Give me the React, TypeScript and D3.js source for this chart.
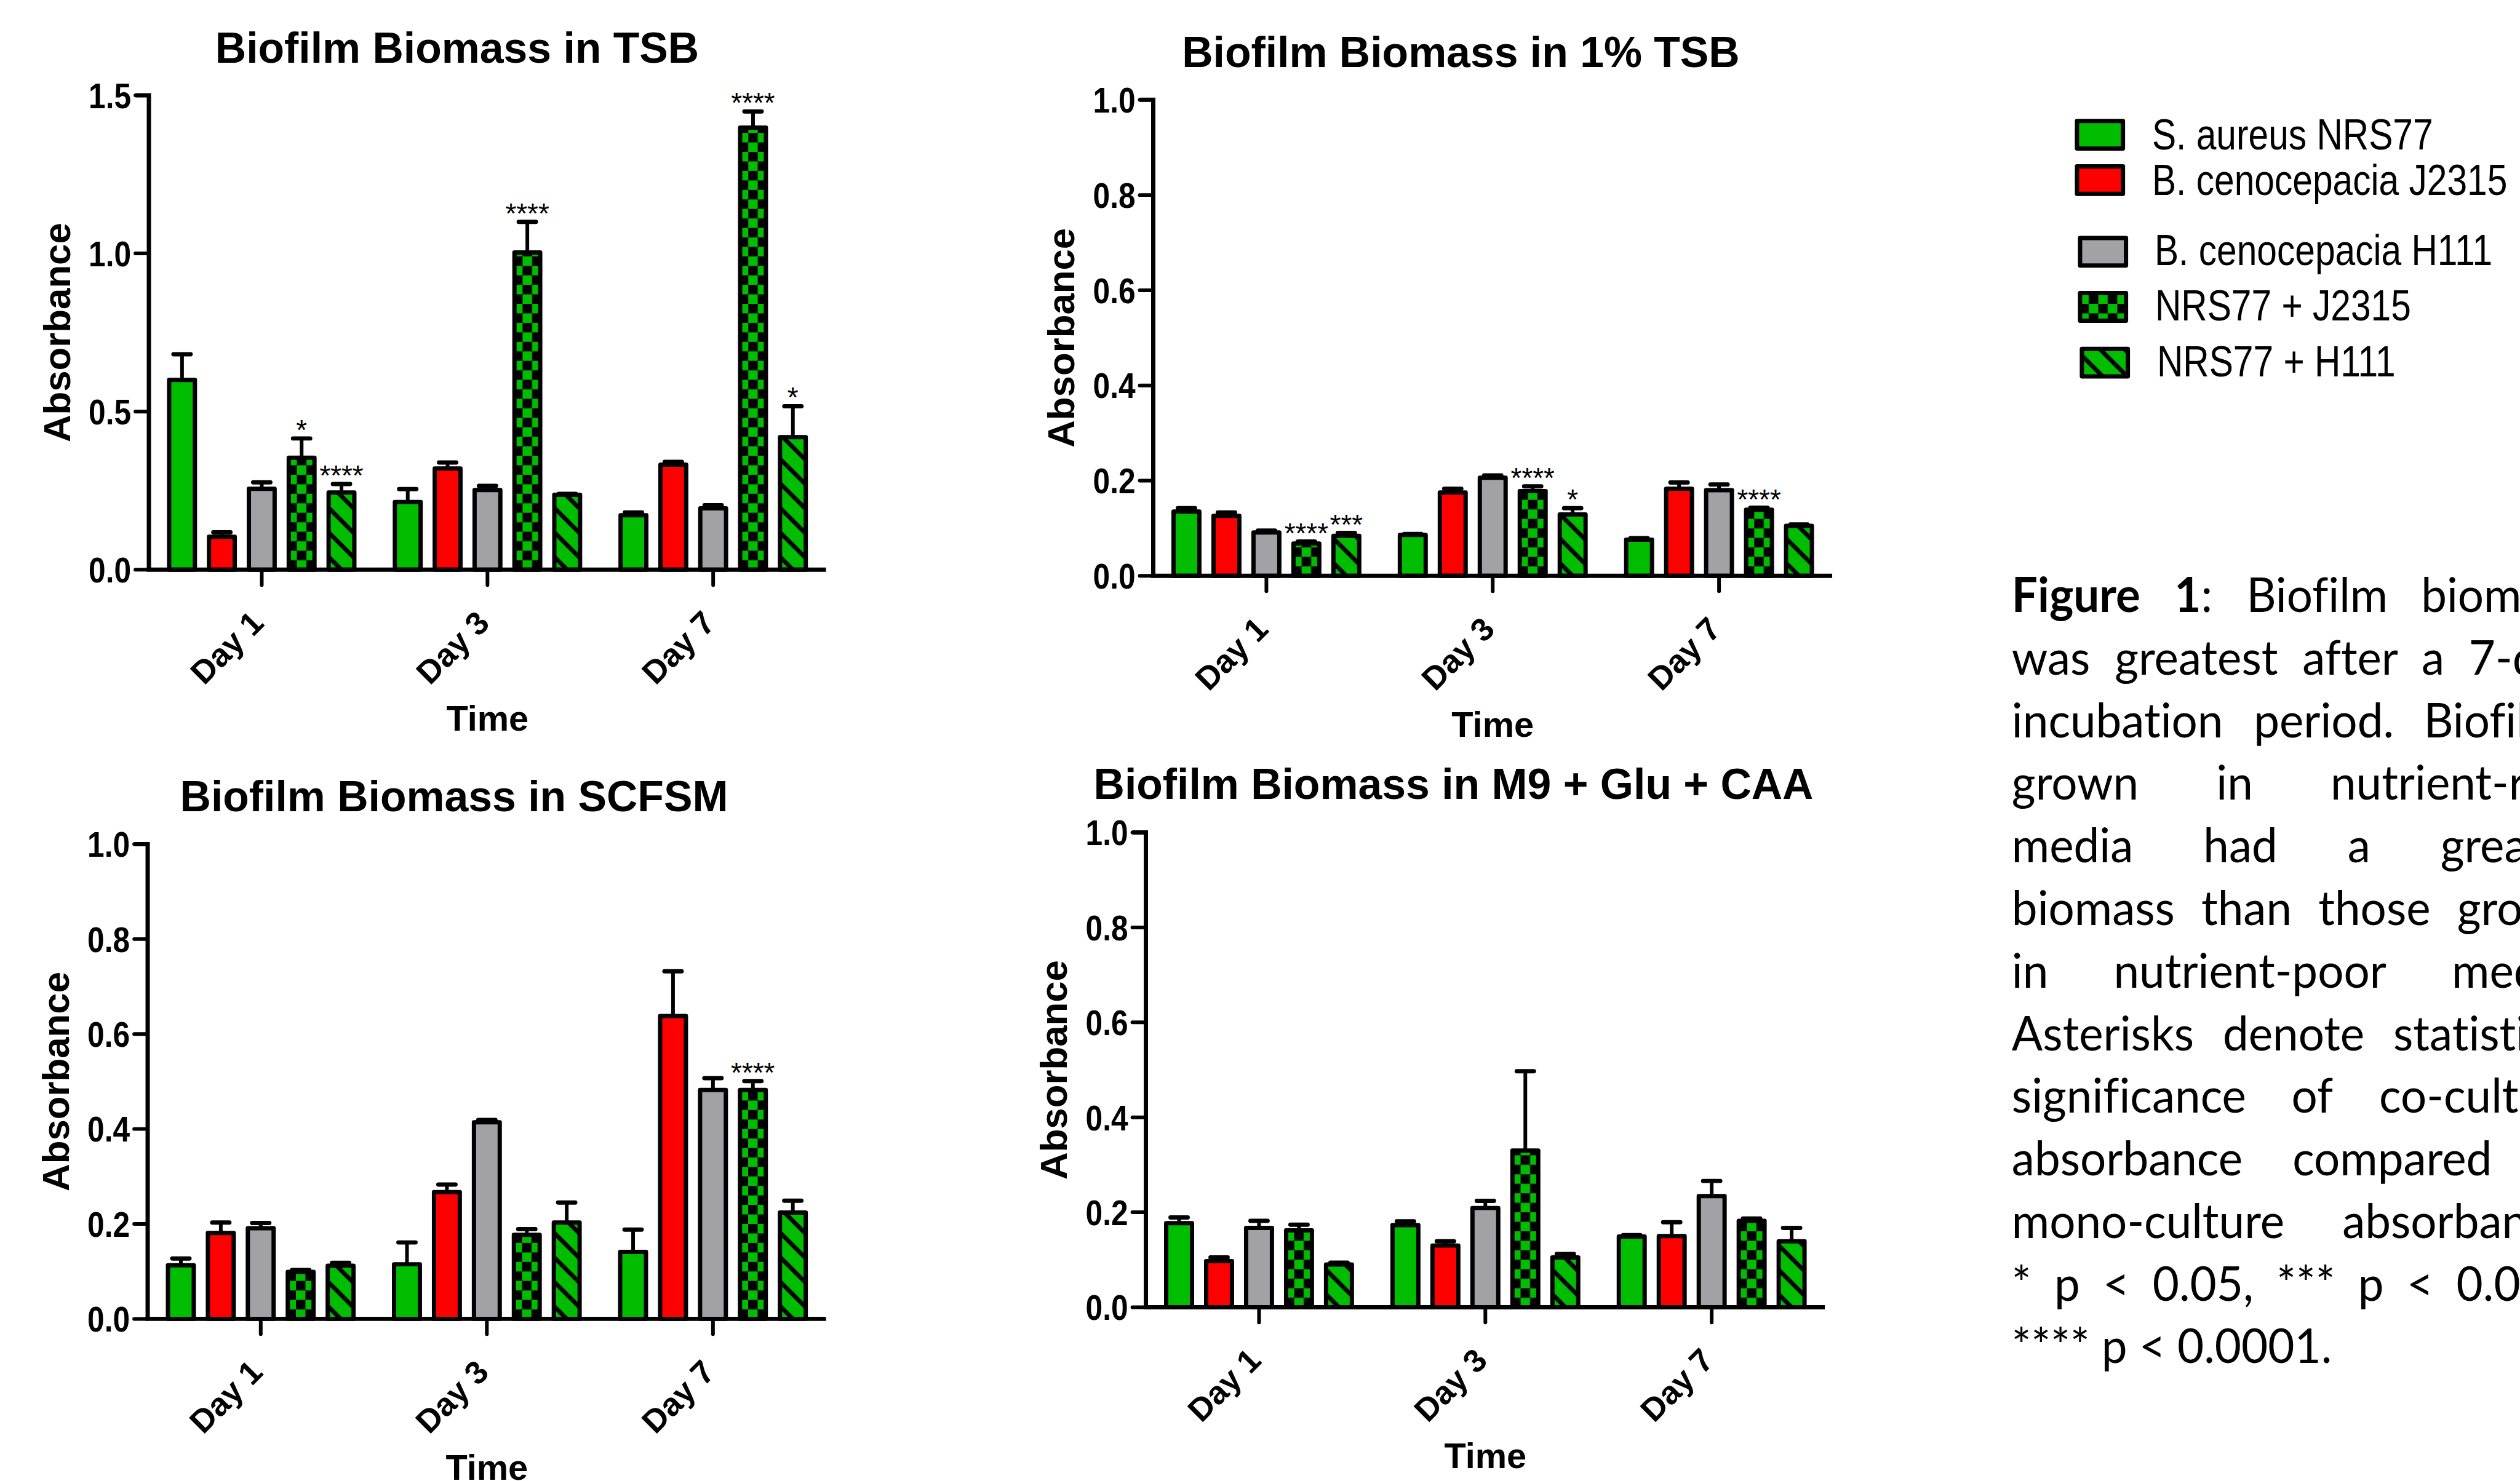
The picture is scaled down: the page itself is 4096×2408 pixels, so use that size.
import React from 'react';
import * as d3 from 'd3';

// categories and series
const days = ['Day 1', 'Day 3', 'Day 7'];
const strains = ['S. aureus NRS77', 'B. cenocepacia J2315', 'B. cenocepacia H111', 'NRS77 + J2315', 'NRS77 + H111'];

// Biofilm Biomass in TSB  (rows = strains, columns = days)
const tsbMean = [
  [0.600, 0.214, 0.172],
  [0.104, 0.320, 0.332],
  [0.256, 0.252, 0.194],
  [0.354, 1.003, 1.398],
  [0.244, 0.237, 0.419],
];
const tsbErr = [
  [0.081, 0.041, 0.009],
  [0.014, 0.019, 0.009],
  [0.020, 0.013, 0.010],
  [0.061, 0.097, 0.051],
  [0.027, 0.003, 0.098],
];
const tsbStars = [
  ['', '', ''],
  ['', '', ''],
  ['', '', ''],
  ['*', '****', '****'],
  ['****', '', '*'],
];

// Biofilm Biomass in 1% TSB
const tsb1Mean = [
  [0.135, 0.086, 0.076],
  [0.126, 0.175, 0.183],
  [0.091, 0.206, 0.180],
  [0.068, 0.178, 0.139],
  [0.084, 0.129, 0.105],
];
const tsb1Err = [
  [0.007, 0.002, 0.003],
  [0.007, 0.008, 0.013],
  [0.004, 0.005, 0.012],
  [0.004, 0.010, 0.004],
  [0.006, 0.013, 0.003],
];
const tsb1Stars = [
  ['', '', ''],
  ['', '', ''],
  ['', '', ''],
  ['****', '****', '****'],
  ['***', '*', ''],
];

// Biofilm Biomass in SCFSM
const scfsmMean = [
  [0.113, 0.115, 0.141],
  [0.181, 0.267, 0.638],
  [0.191, 0.414, 0.482],
  [0.099, 0.177, 0.482],
  [0.112, 0.203, 0.224],
];
const scfsmErr = [
  [0.014, 0.046, 0.047],
  [0.022, 0.016, 0.094],
  [0.011, 0.005, 0.025],
  [0.004, 0.012, 0.019],
  [0.006, 0.042, 0.025],
];
const scfsmStars = [
  ['', '', ''],
  ['', '', ''],
  ['', '', ''],
  ['', '', '****'],
  ['', '', ''],
];

// Biofilm Biomass in M9 + Glu + CAA
const m9Mean = [
  [0.177, 0.173, 0.149],
  [0.097, 0.130, 0.150],
  [0.167, 0.209, 0.234],
  [0.162, 0.330, 0.182],
  [0.090, 0.105, 0.139],
];
const m9Err = [
  [0.012, 0.008, 0.003],
  [0.008, 0.009, 0.029],
  [0.015, 0.015, 0.032],
  [0.012, 0.167, 0.005],
  [0.004, 0.007, 0.028],
];
const m9Stars = [
  ['', '', ''],
  ['', '', ''],
  ['', '', ''],
  ['', '', ''],
  ['', '', ''],
];

// tick values
const tsbTicks = [0, 0.5, 1.0, 1.5];
const unitTicks = [0, 0.2, 0.4, 0.6, 0.8, 1.0];

const captionLines = [
  'Figure 1: Biofilm biomass',
  'was greatest after a 7-day',
  'incubation period. Biofilms',
  'grown in nutrient-rich',
  'media had a greater',
  'biomass than those grown',
  'in nutrient-poor media.',
  'Asterisks denote statistical',
  'significance of co-culture',
  'absorbance compared to',
  'mono-culture absorbance.',
  '* p < 0.05, *** p < 0.001,',
  '**** p < 0.0001.',
];

const GREEN = '#00bd00';
const RED = '#ff0000';
const GRAY = '#a1a1a6';
const fills = [GREEN, RED, GRAY, 'url(#checker)', 'url(#hatch)'];

const W = 4096;
const H = 2408;
const K = 0.996; // reference -> window

type PanelSpec = {
  title: string;
  mean: number[][];
  err: number[][];
  stars: string[][];
  yMax: number;
  ticks: number[];
  left: number;
  right: number;
  top: number;
  bottom: number;
  titleX: number;
  titleY: number;
};

const panels: PanelSpec[] = [
  { title: 'Biofilm Biomass in TSB', mean: tsbMean, err: tsbErr, stars: tsbStars, yMax: 1.5, ticks: tsbTicks,
    left: 243, right: 1348, top: 155.6, bottom: 930, titleX: 746, titleY: 102 },
  { title: 'Biofilm Biomass in 1% TSB', mean: tsb1Mean, err: tsb1Err, stars: tsb1Stars, yMax: 1, ticks: unitTicks,
    left: 1882, right: 2990, top: 163, bottom: 940, titleX: 2384, titleY: 109 },
  { title: 'Biofilm Biomass in SCFSM', mean: scfsmMean, err: scfsmErr, stars: scfsmStars, yMax: 1, ticks: unitTicks,
    left: 241, right: 1348, top: 1378, bottom: 2153, titleX: 741, titleY: 1324 },
  { title: 'Biofilm Biomass in M9 + Glu + CAA', mean: m9Mean, err: m9Err, stars: m9Stars, yMax: 1, ticks: unitTicks,
    left: 1870, right: 2978, top: 1359, bottom: 2134, titleX: 2372, titleY: 1304 },
];

const fmt = d3.format('.1f');

function Panel({ p }: { p: PanelSpec }) {
  const x0 = d3.scaleBand<string>().domain(days).range([p.left, p.right]);
  const x1 = d3.scaleBand<string>().domain(strains).range([0, x0.bandwidth()])
    .paddingInner(0.354).paddingOuter(0.508);
  const y = d3.scaleLinear().domain([0, p.yMax]).range([p.bottom, p.top]);
  const bw = x1.bandwidth();
  const base = y(0);

  return (
    <g>
      <text x={p.titleX} y={p.titleY} textAnchor="middle" fontSize={70} fontWeight="bold">{p.title}</text>

      {strains.map((s, si) => days.map((d, di) => {
        const v = p.mean[si][di];
        const e = p.err[si][di];
        const cx = (x0(d) as number) + (x1(s) as number) + bw / 2;
        const yt = y(v) - base;
        const ye = y(v + e) - base;
        const star = p.stars[si][di];
        return (
          <g key={s + d} transform={`translate(${cx},${base})`}>
            <line x1={0} x2={0} y1={yt} y2={ye} stroke="#000" strokeWidth={6} />
            <line x1={-14} x2={14} y1={ye} y2={ye} stroke="#000" strokeWidth={7} strokeLinecap="round" />
            <rect x={-bw / 2} y={yt} width={bw} height={-yt} fill={fills[si]}
              stroke="#000" strokeWidth={7} strokeLinejoin="round" />
            {star && <text y={ye + 2} textAnchor="middle" fontSize={46}>{star}</text>}
          </g>
        );
      }))}

      {/* y axis */}
      <path d={`M${p.left - 22},${p.top}H${p.left}V${p.bottom}`} fill="none" stroke="#000" strokeWidth={7} />
      {p.ticks.map(t => (
        <g key={t}>
          <line x1={p.left - 22} x2={p.left} y1={y(t)} y2={y(t)} stroke="#000" strokeWidth={6} strokeLinecap="round" />
          <g transform={`translate(${p.left - 29},${y(t)}) scale(0.86,1)`}>
            <text textAnchor="end" dy="0.36em" fontSize={58} fontWeight="bold">{fmt(t)}</text>
          </g>
        </g>
      ))}
      <text transform={`translate(${p.left - 129},${(p.top + p.bottom) / 2}) rotate(-90)`}
        textAnchor="middle" fontSize={62} fontWeight="bold">Absorbance</text>

      {/* x axis */}
      <line x1={p.left - 3.5} x2={p.right} y1={base} y2={base} stroke="#000" strokeWidth={7} />
      {days.map(d => {
        const cx = (x0(d) as number) + x0.bandwidth() / 2;
        return (
          <g key={d}>
            <line x1={cx} x2={cx} y1={base} y2={base + 25} stroke="#000" strokeWidth={6} strokeLinecap="round" />
            <text transform={`translate(${cx + 6},${base + 90}) rotate(-45)`} textAnchor="end"
              fontSize={53} fontWeight="bold">{d}</text>
          </g>
        );
      })}
      <text x={(p.left + p.right) / 2} y={base + 263} textAnchor="middle" fontSize={58} fontWeight="bold">Time</text>
    </g>
  );
}

// legend rows: box top-left and text baseline in reference pixels
const legendLayout = [
  { bx: 3386, by: 194, tx: 3512, ty: 244 },
  { bx: 3386, by: 268, tx: 3512, ty: 318 },
  { bx: 3391, by: 385, tx: 3516, ty: 433 },
  { bx: 3391, by: 475, tx: 3517, ty: 523 },
  { bx: 3394, by: 566, tx: 3520, ty: 614 },
];

function Legend() {
  return (
    <g>
      {strains.map((s, i) => {
        const l = legendLayout[i];
        return (
          <g key={s}>
            <g transform={`translate(${l.bx + 41},${l.by + 52})`}>
              <rect x={-37.5} y={-48.5} width={75} height={45} fill={fills[i]} stroke="#000"
                strokeWidth={7} strokeLinejoin="round" />
            </g>
            <g transform={`translate(${l.tx},${l.ty}) scale(0.83,1)`}>
              <text fontSize={71}>{s}</text>
            </g>
          </g>
        );
      })}
    </g>
  );
}

let ctx: CanvasRenderingContext2D | null = null;
function measure(text: string, font: string) {
  if (!ctx) ctx = document.createElement('canvas').getContext('2d');
  if (!ctx) return text.length * 40;
  ctx.font = font;
  return ctx.measureText(text).width;
}

const CAP_FONT = 'Lato, "Open Sans", sans-serif';

function Caption() {
  const left = 3283;
  const right = 4217;
  const top = 999;
  const lh = 102.2;
  const size = 78;
  const reg = `${size}px ${CAP_FONT}`;
  const bold = `bold ${size}px ${CAP_FONT}`;

  const lines = captionLines.map((line, li) => {
    const words = line.split(' ');
    // segments of each word: [text, bold]
    const segs: [string, boolean][][] = words.map((w, wi) => {
      if (li === 0 && wi === 0) return [[w, true]];
      if (li === 0 && wi === 1) return [['1', true], [w.slice(1), false]];
      return [[w, false]];
    });
    const widths = segs.map(ws => ws.reduce((a, [t, b]) => a + measure(t, b ? bold : reg), 0));
    return { words, segs, widths, total: d3.sum(widths) };
  });

  // squeeze horizontally (Calibri-like width) so every justified line keeps a small gap
  const span = right - left;
  const fitScale = d3.min(lines.slice(0, -1), l => span / (l.total + 0.22 * size * (l.words.length - 1))) || 1;
  const sx = Math.min(0.96, fitScale);
  const innerSpan = span / sx;

  return (
    <g fontFamily={CAP_FONT} fontSize={size} style={{ fontVariantLigatures: 'none' }}
      transform={`translate(${left},0) scale(${sx},1)`}>
      {lines.map((l, li) => {
        const last = li === lines.length - 1;
        const gap = last ? measure(' ', reg) : (innerSpan - l.total) / (l.words.length - 1);
        let x = 0;
        const yb = top + li * lh;
        return (
          <g key={li}>
            {l.segs.map((ws, wi) => {
              let sxp = x;
              x += l.widths[wi] + gap;
              return ws.map(([t, b], k) => {
                const el = (
                  <text key={`${wi}-${k}`} x={sxp} y={yb} fontWeight={b ? 'bold' : 'normal'}>{t}</text>
                );
                sxp += measure(t, b ? bold : reg);
                return el;
              });
            })}
          </g>
        );
      })}
    </g>
  );
}

export default function App() {
  return (
    <>
      <style>{'body{margin:0;overflow:hidden}'}</style>
      <svg width={W} height={H} style={{ display: 'block', background: '#fff' }}
        fontFamily='"Liberation Sans", Arial, sans-serif'>
        <defs>
          <pattern id="checker" patternUnits="userSpaceOnUse" x={-7.75} y={0} width={31} height={31}>
            <rect width={31} height={31} fill={GREEN} />
            <rect width={15.5} height={15.5} fill="#000" />
            <rect x={15.5} y={15.5} width={15.5} height={15.5} fill="#000" />
          </pattern>
          <pattern id="hatch" patternUnits="userSpaceOnUse" width={40} height={40}>
            <rect width={40} height={40} fill={GREEN} />
            <path d="M-10,-10L50,50M-10,30L10,50M30,-10L50,10" stroke="#000" strokeWidth={7} />
          </pattern>
        </defs>
        <rect width={W} height={H} fill="#fff" />
        <g transform={`scale(${K})`}>
          {panels.map(p => <Panel key={p.title} p={p} />)}
          <Legend />
          <Caption />
        </g>
      </svg>
    </>
  );
}
